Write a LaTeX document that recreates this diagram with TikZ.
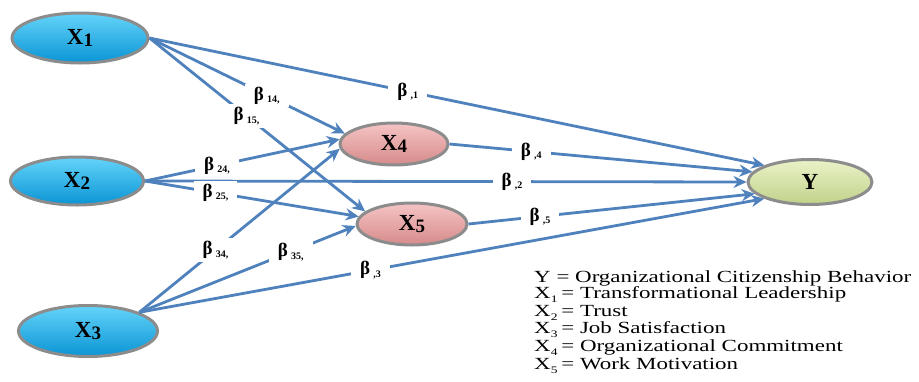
\documentclass[tikz,border=0pt]{standalone}
\usepackage{fontspec}
\setmainfont{Liberation Serif}
\usetikzlibrary{arrows.meta,shapes.geometric}
\definecolor{lineblue}{RGB}{79,129,189}
\definecolor{ringgray}{RGB}{140,140,140}
\definecolor{bluetop}{RGB}{100,212,250}
\definecolor{bluemid}{RGB}{25,182,240}
\definecolor{bluebot}{RGB}{10,148,212}
\definecolor{pinktop}{RGB}{245,196,196}
\definecolor{pinkmid}{RGB}{233,164,164}
\definecolor{pinkbot}{RGB}{214,138,138}
\definecolor{greentop}{RGB}{234,242,200}
\definecolor{greenmid}{RGB}{214,228,166}
\definecolor{greenbot}{RGB}{192,210,138}
\newcommand\bcoef[1]{β\,\raisebox{-2.5pt}{\fontsize{10}{10}\selectfont #1}}
\newcommand\varlab[1]{X\raisebox{-2pt}{\fontsize{19}{19}\selectfont #1}}
\newcommand\legsub[1]{X\raisebox{-4pt}{\fontsize{10}{10}\selectfont #1}}
\begin{document}
\begin{tikzpicture}[x=1pt,y=-1pt,
  var/.style={ellipse, draw=ringgray, line width=3pt, inner sep=0pt,
    font=\fontsize{23}{23}\selectfont\bfseries},
  bluev/.style={var, top color=bluetop, middle color=bluemid, bottom color=bluebot},
  pinkv/.style={var, top color=pinktop, middle color=pinkmid, bottom color=pinkbot},
  greenv/.style={var, top color=greentop, middle color=greenmid, bottom color=greenbot},
  pathline/.style={draw=lineblue, line width=2.8pt, -{Stealth[length=13pt,width=12pt]}},
  coef/.style={fill=white, inner xsep=9pt, inner ysep=3pt, font=\fontsize{19}{19}\selectfont\bfseries},
  legend/.style={anchor=base west, inner sep=0pt, font=\fontsize{17}{17}\selectfont},
]
\useasboundingbox (0,0) rectangle (919,381);

\node[bluev, minimum width=136pt, minimum height=50pt] (X1) at (80,38) {\varlab{1}};
\node[bluev, minimum width=133pt, minimum height=48pt] (X2) at (77,181) {\varlab{2}};
\node[bluev, minimum width=139pt, minimum height=51pt] (X3) at (88,331) {\varlab{3}};
\node[pinkv, minimum width=108pt, minimum height=42pt] (X4) at (394,144) {\varlab{4}};
\node[pinkv, minimum width=110pt, minimum height=42pt] (X5) at (412,224) {\varlab{5}};
\node[greenv, minimum width=124pt, minimum height=45pt] (Y) at (810,182) {Y};

\draw[pathline] (X1.east) -- node[coef,pos=.42]{\bcoef{,1}} (Y.160);
\draw[pathline] (X1.east) -- node[coef,pos=.45]{\bcoef{15,}} (X5.165);
\draw[pathline] (X1.east) -- node[coef,pos=.6]{\bcoef{14,}} (X4.168);
\draw[pathline] (X2.east) -- node[coef,pos=.37]{\bcoef{24,}} (X4.175);
\draw[pathline] (X2.east) -- node[coef,pos=.61]{\bcoef{,2}} (Y.180);
\draw[pathline] (X2.east) -- node[coef,pos=.33]{\bcoef{25,}} (X5.172);
\draw[pathline] (X3.20) -- node[coef,pos=.38]{\bcoef{34,}} (X4.185);
\draw[pathline] (X3.20) -- node[coef,pos=.7]{\bcoef{35,}} (X5.182);
\draw[pathline] (X3.20) -- node[coef,pos=.37]{\bcoef{,3}} (Y.200);
\draw[pathline] (X4.east) -- node[coef,pos=.27]{\bcoef{,4}} (Y.170);
\draw[pathline] (X5.east) -- node[coef,pos=.25]{\bcoef{,5}} (Y.192);

\node[legend] (L0) at (534,282) {\scalebox{1.35}[1]{Y = Organizational Citizenship Behavior}};
\node[legend] (L1) at (534,298) {\scalebox{1.35}[1]{\legsub{1}\,= Transformational Leadership}};
\node[legend] (L2) at (534,316) {\scalebox{1.35}[1]{\legsub{2}\,= Trust}};
\node[legend] (L3) at (534,333) {\scalebox{1.35}[1]{\legsub{3}\,= Job Satisfaction}};
\node[legend] (L4) at (534,351) {\scalebox{1.35}[1]{\legsub{4}\,= Organizational Commitment}};
\node[legend] (L5) at (534,369) {\scalebox{1.35}[1]{\legsub{5}\,= Work Motivation}};
\end{tikzpicture}
\end{document}
